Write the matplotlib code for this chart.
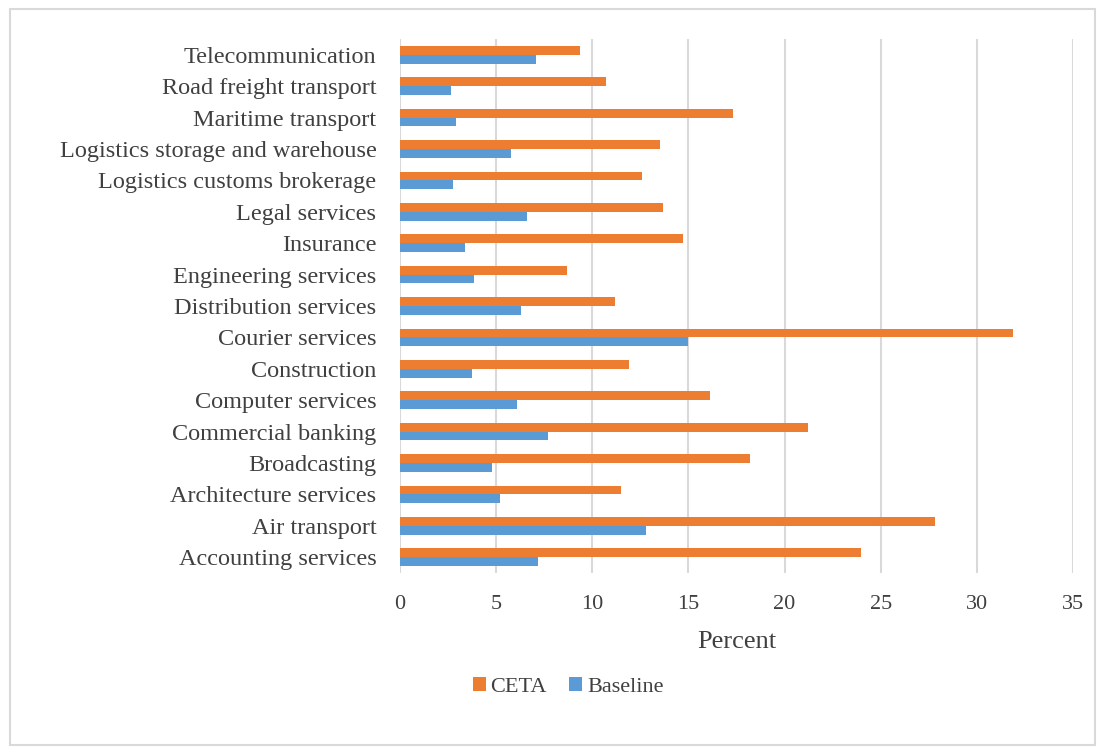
import matplotlib.pyplot as plt
from matplotlib.patches import Rectangle
import numpy as np

sectors = ['Accounting services', 'Air transport', 'Architecture services',
           'Broadcasting', 'Commercial banking', 'Computer services',
           'Construction', 'Courier services', 'Distribution services',
           'Engineering services', 'Insurance', 'Legal services',
           'Logistics customs brokerage', 'Logistics storage and warehouse',
           'Maritime transport', 'Road freight transport', 'Telecommunication']
ceta = [24.0, 27.8, 11.5, 18.2, 21.2, 16.1, 11.9, 31.9, 11.2,
        8.7, 14.7, 13.7, 12.6, 13.5, 17.3, 10.7, 9.35]
baseline = [7.2, 12.8, 5.2, 4.8, 7.7, 6.1, 3.75, 15.0, 6.3,
            3.85, 3.4, 6.6, 2.75, 5.75, 2.9, 2.65, 7.05]

plt.rcParams['font.family'] = ['Liberation Serif', 'DejaVu Serif']

fig = plt.figure(figsize=(11.05, 7.49), dpi=100)
ax = fig.add_axes([400 / 1105, 1 - 573 / 749, 673 / 1105, 534 / 749])

y = np.arange(len(sectors))
h = 0.28
ax.barh(y + h / 2, ceta, height=h, color='#ED7D31', label='CETA')
ax.barh(y - h / 2, baseline, height=h, color='#5B9BD5', label='Baseline')

ax.set_xlim(0, 35)
ax.set_ylim(-0.5, len(sectors) - 0.5)
ax.set_xticks(range(0, 36, 5))
ax.set_yticks(y)
ax.set_yticklabels(sectors, fontsize=17.5)
ax.tick_params(axis='both', length=0, colors='#404040')
ax.tick_params(axis='x', labelsize=16, pad=16)
ax.tick_params(axis='y', pad=17)
ax.grid(axis='x', color='#d9d9d9', linewidth=1.5)
ax.set_axisbelow(True)
for s in ax.spines.values():
    s.set_visible(False)
ax.set_xlabel('Percent', fontsize=19, color='#404040', labelpad=12)

handles, labels = ax.get_legend_handles_labels()
fig.legend(handles, labels, loc='center', bbox_to_anchor=(568 / 1105, 1 - 687 / 749),
           ncol=2, frameon=False, fontsize=16, handlelength=0.6, handleheight=0.6,
           handletextpad=0.2, columnspacing=1.0, labelcolor='#404040')

fig.add_artist(Rectangle((10 / 1105, 1 - 745 / 749), 1085 / 1105, 736 / 749,
                         transform=fig.transFigure, fill=False,
                         edgecolor='#d9d9d9', linewidth=1.5))

fig.savefig('out.png', dpi=100)
